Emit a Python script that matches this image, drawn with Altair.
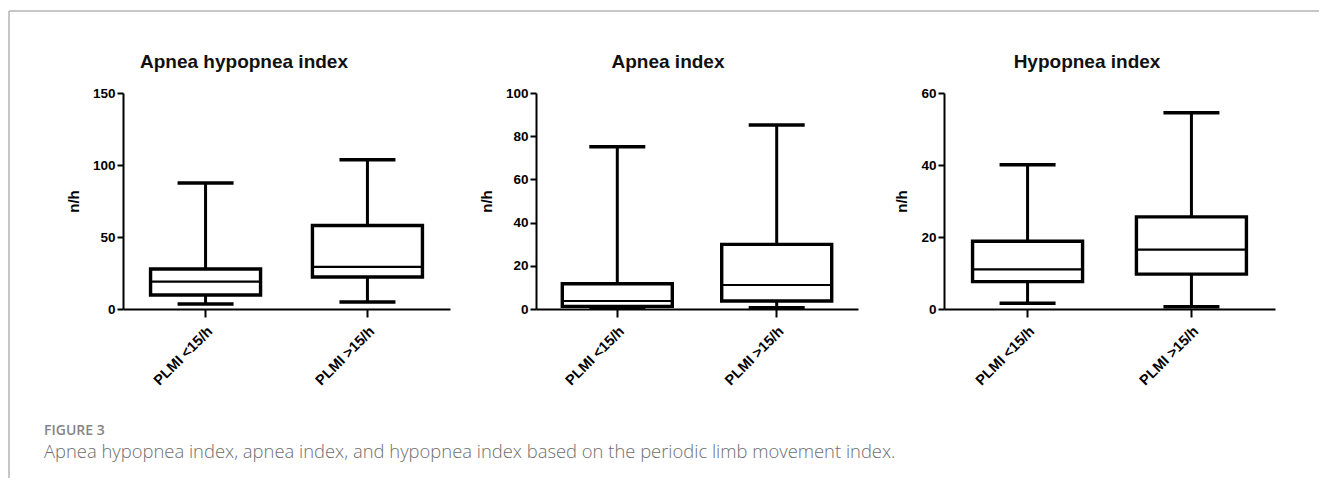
import altair as alt
import pandas as pd

groups = ["PLMI <15/h", "PLMI >15/h"]
titles = ["Apnea hypopnea index", "Apnea index", "Hypopnea index"]

# Apnea hypopnea index
ahi_min = [3.5, 4.9]
ahi_q1 = [9.7, 22.2]
ahi_med = [19.0, 29.2]
ahi_q3 = [27.8, 58.0]
ahi_max = [87.5, 103.7]

# Apnea index
ai_min = [0.5, 0.6]
ai_q1 = [1.2, 3.7]
ai_med = [3.7, 11.1]
ai_q3 = [11.7, 29.9]
ai_max = [75.1, 85.2]

# Hypopnea index
hi_min = [1.6, 0.6]
hi_q1 = [7.6, 9.7]
hi_med = [11.0, 16.5]
hi_q3 = [18.8, 25.6]
hi_max = [40.1, 54.5]

y_max = [150, 100, 60]
y_ticks = [[0, 50, 100, 150], [0, 20, 40, 60, 80, 100], [0, 20, 40, 60]]

fig_label = "FIGURE 3"
caption = ("Apnea hypopnea index, apnea index, and hypopnea index based on the "
           "periodic limb movement index.")

W = [327, 322, 331]
H = 216
TITLE_X = [121, 132, 143]
FONT = "Liberation Sans"


def panel(i, mins, q1, med, q3, mx, extra=()):
    df = pd.DataFrame({"g": groups, "lo": mins, "q1": q1, "med": med, "q3": q3, "hi": mx})
    xenc = alt.X("g:N", sort=groups,
                 scale=alt.Scale(paddingInner=0, paddingOuter=0.01),
                 axis=alt.Axis(title=None, labelAngle=-45, tickSize=8, labelPadding=7,
                               labelFontSize=14.5))
    yscale = alt.Scale(domain=[0, y_max[i]], nice=False, zero=True)
    yax = alt.Axis(title="n/h", values=y_ticks[i], tickSize=6, labelPadding=2,
                   titlePadding=11, grid=False)

    def Y(f):
        return alt.Y(f, type="quantitative", scale=yscale, axis=yax)

    base = alt.Chart(df)
    w_lo = base.mark_rule(color="black", strokeWidth=3).encode(x=xenc, y=Y("lo"), y2="q1")
    w_hi = base.mark_rule(color="black", strokeWidth=3).encode(x=xenc, y=Y("q3"), y2="hi")
    box = base.mark_bar(size=110, fill="white", stroke="black", strokeWidth=3.4).encode(
        x=xenc, y=Y("q1"), y2="q3")
    median = base.mark_tick(size=110, thickness=2.2, color="black", opacity=1).encode(x=xenc, y=Y("med"))
    cap_lo = base.mark_tick(size=56, thickness=3.5, color="black", opacity=1).encode(x=xenc, y=Y("lo"))
    cap_hi = base.mark_tick(size=56, thickness=3.5, color="black", opacity=1).encode(x=xenc, y=Y("hi"))
    ttl = alt.Chart(pd.DataFrame({"t": [titles[i]]})).mark_text(
        font=FONT, fontSize=19, fontWeight="bold", color="#111", align="center",
        baseline="alphabetic").encode(x=alt.value(TITLE_X[i]), y=alt.value(-25), text="t:N")
    layers = [w_lo, w_hi, box, median, cap_lo, cap_hi, ttl] + list(extra)
    return alt.layer(*layers).properties(width=W[i], height=H)


one = pd.DataFrame({"k": [0]})
border_top = alt.Chart(one).mark_rule(color="#b5b5b5", strokeWidth=1.5).encode(
    x=alt.value(-114), x2=alt.value(1196), y=alt.value(-82))
border_left = alt.Chart(one).mark_rule(color="#b5b5b5", strokeWidth=1.5).encode(
    x=alt.value(-114), y=alt.value(-82), y2=alt.value(385))
fig_txt = alt.Chart(pd.DataFrame({"t": [fig_label]})).mark_text(
    font="Open Sans", fontSize=14, fontWeight=600, color="#858585", align="left",
    baseline="middle").encode(x=alt.value(-79), y=alt.value(338), text="t:N")
cap_txt = alt.Chart(pd.DataFrame({"t": [caption]})).mark_text(
    font="Open Sans", fontSize=18.4, fontWeight=300, color="#6e6e6e", align="left",
    baseline="middle").encode(x=alt.value(-79), y=alt.value(359), text="t:N")

p1 = panel(0, ahi_min, ahi_q1, ahi_med, ahi_q3, ahi_max,
           extra=[border_top, border_left, fig_txt, cap_txt])
p2 = panel(1, ai_min, ai_q1, ai_med, ai_q3, ai_max)
p3 = panel(2, hi_min, hi_q1, hi_med, hi_q3, hi_max)

chart = alt.hconcat(p1, p2, p3, spacing=86, bounds="flush").properties(
    padding={"left": 0, "top": 2, "right": 0, "bottom": 0}
).configure_view(stroke=None).configure_axis(
    domainColor="black", domainWidth=2, tickColor="black", tickWidth=2,
    labelFont=FONT, labelFontWeight="bold", labelFontSize=13.5, labelColor="black",
    titleFont=FONT, titleFontWeight="bold", titleFontSize=15, titleColor="black",
    grid=False
)

chart.save("out.html", embed_options={"renderer": "svg", "actions": False})
